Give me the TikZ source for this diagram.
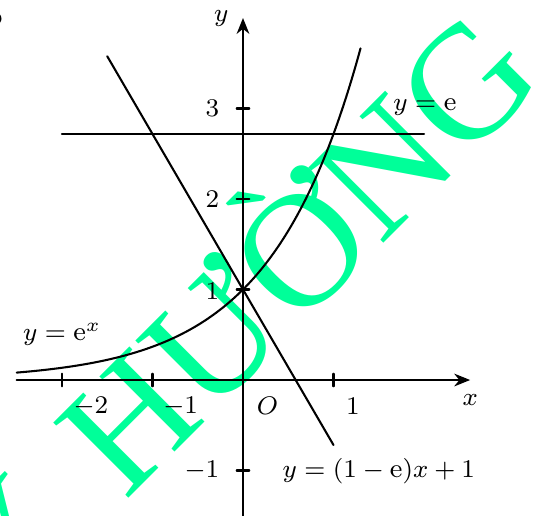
\documentclass[tikz,border=0pt]{standalone}
\usepackage{fontspec}
\newfontfamily\wmfont{Liberation Serif}
\usetikzlibrary{arrows.meta}
\definecolor{wmgreen}{RGB}{0,255,153}

\begin{document}
\begin{tikzpicture}[x=1cm,y=1cm,line cap=round,line join=round,
  font=\fontsize{8.4}{10}\selectfont,
  axis/.style={line width=.65pt},
  curve/.style={line width=.65pt},
  lab/.style={inner sep=1pt}]
  \path[use as bounding box] (-2.685,-1.492) rectangle (3.293,4.199);
  \pgfmathsetmacro\ee{exp(1)}
  % watermark, drawn first so it stays behind the graph
  \node[wmgreen,rotate=45,anchor=mid,inner sep=0,
    font=\wmfont\fontsize{51}{51}\selectfont] (wm) at (.284,.344) {Y\hspace{.12em} HƯỜNG};
  % cut-off bits of the page around the picture
  \node[anchor=east,inner sep=0,font=\fontsize{10}{12}\selectfont\bfseries] (pg5) at (-2.64,4.03) {5};
  \node[anchor=base east,inner sep=0] (pgdot) at (-2.668,3.35) {.};
  \coordinate (xl) at (-2.5,0);
  \coordinate (xr) at (2.51,0);
  \coordinate (yb) at (0,-1.5);
  \coordinate (yt) at (0,4);
  \draw[axis,-{Stealth[length=5pt,width=4pt,inset=1.6pt]}] (xl)--(xr);
  \draw[axis,-{Stealth[length=5pt,width=4pt,inset=1.6pt]}] (yb)--(yt);
  \foreach \t in {-2,-1,1} \draw[axis] (\t,-.07)--(\t,.07);
  \foreach \t in {-1,1,2,3} \draw[axis] (-.07,\t)--(.07,\t);
  \node[lab] (lx) at (2.51,-.22) {$x$};
  \node[lab] (ly) at (-.24,3.99) {$y$};
  \node[lab] (lO) at (.27,-.28) {$O$};
  \node[lab] (xm2) at (-1.68,-.29) {$-2$};
  \node[lab] (xm1) at (-.69,-.29) {$-1$};
  \node[lab] (xp1) at (1.215,-.29) {$1$};
  \node[lab,anchor=east] (ym1) at (-.22,-1) {$-1$};
  \node[lab,anchor=east] (yp1) at (-.22,.98) {$1$};
  \node[lab,anchor=east] (yp2) at (-.22,2) {$2$};
  \node[lab,anchor=east] (yp3) at (-.22,3) {$3$};
  % the three graphs
  \draw[curve,domain=-2.5:1.3,samples=120] plot (\x,{exp(\x)});
  \coordinate (E1) at (-2,\ee);
  \coordinate (E2) at (2,\ee);
  \draw[curve] (E1)--(E2);
  \coordinate (T1) at (-1.5,{(1-\ee)*(-1.5)+1});
  \coordinate (T2) at (1,{(1-\ee)*1+1});
  \draw[curve] (T1)--(T2);
  \node[lab] (lexp) at (-2,.5) {$y=\mathrm{e}^x$};
  \node[lab] (lconst) at (2.01,3.02) {$y=\mathrm{e}$};
  \node[lab] (ltan) at (1.5,-1.01) {$y=(1-\mathrm{e})x+1$};
\end{tikzpicture}
\end{document}
